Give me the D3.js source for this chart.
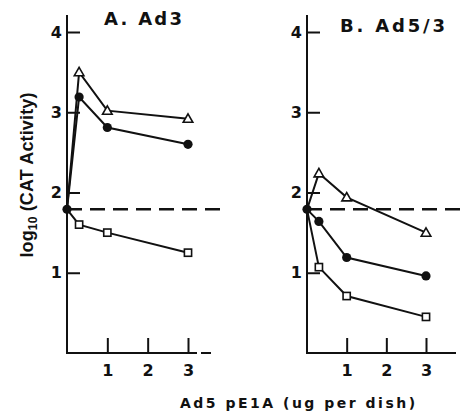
<!DOCTYPE html>
<html>
<head>
<meta charset="utf-8">
<script src="https://cdn.jsdelivr.net/npm/d3@7/dist/d3.min.js"></script>
<style>
  html, body { margin: 0; padding: 0; background: #fff; }
  svg { display: block; }
  text { font-family: "DejaVu Sans", "Liberation Sans", Arial, sans-serif; font-weight: bold; fill: #111; }
</style>
</head>
<body>
<svg id="chart" width="461" height="415"></svg>
<script>
// ---- data ----
const doses = [0, 0.3, 1, 3];
const xTicks = [1, 2, 3];
const yTicks = [1, 2, 3, 4];
const baseline = 1.79;
const panelTitles = ["A. Ad3", "B. Ad5/3"];
const ad3Triangle = [1.79, 3.50, 3.02, 2.92];
const ad3Circle   = [1.79, 3.19, 2.81, 2.60];
const ad3Square   = [1.79, 1.60, 1.50, 1.25];
const ad53Triangle = [1.79, 2.24, 1.94, 1.50];
const ad53Circle   = [1.79, 1.64, 1.19, 0.96];
const ad53Square   = [1.79, 1.07, 0.71, 0.45];
const yLabel = ["log", "10", " (CAT Activity)"];
const xLabel = "Ad5 pE1A (ug per dish)";

// ---- layout ----
const svg = d3.select("#chart");
const ink = "#111";
const y = d3.scaleLinear().domain([0, 4]).range([353, 32]);

const panels = [
  { title: panelTitles[0], tx: 104, ty: 25, tw: 78,
    x: d3.scaleLinear().domain([0, 3]).range([67, 188]),
    axisEnd: 197, axisDash: [201, 211], dashEnd: 228,
    series: [ad3Triangle, ad3Circle, ad3Square] },
  { title: panelTitles[1], tx: 340, ty: 32, tw: 105,
    x: d3.scaleLinear().domain([0, 3]).range([307, 426]),
    axisEnd: 456, axisDash: null, dashEnd: 461,
    series: [ad53Triangle, ad53Circle, ad53Square] }
];
const kinds = ["triangle", "circle", "square"];

function fit(sel, target) {
  const node = sel.node();
  const n = node.textContent.length;
  const w = node.getComputedTextLength();
  sel.attr("letter-spacing", ((target - w) / (n - 1)).toFixed(2));
}

panels.forEach(p => {
  const g = svg.append("g");
  const x0 = p.x(0);

  // baseline dashed line
  g.append("line")
    .attr("x1", x0).attr("x2", p.dashEnd)
    .attr("y1", y(baseline)).attr("y2", y(baseline))
    .attr("stroke", ink).attr("stroke-width", 2.5)
    .attr("stroke-dasharray", "15,8");

  // y axis
  const yAx = g.append("g").attr("transform", `translate(${x0},0)`)
    .call(d3.axisLeft(y).tickValues(yTicks).tickSizeInner(-13).tickSizeOuter(0).tickPadding(5).tickFormat(d3.format("d")));
  yAx.select(".domain").remove();
  yAx.selectAll(".tick line").attr("stroke", ink).attr("stroke-width", 2);
  yAx.selectAll(".tick text").style("font-size", "16px").attr("font-family", null).attr("fill", ink);
  g.append("line").attr("x1", x0).attr("x2", x0).attr("y1", 15).attr("y2", 354)
    .attr("stroke", ink).attr("stroke-width", 2);

  // x axis
  const xAx = g.append("g").attr("transform", `translate(0,${y(0)})`)
    .call(d3.axisBottom(p.x).tickValues(xTicks).tickSizeInner(-15).tickSizeOuter(0).tickPadding(12).tickFormat(d3.format("d")));
  xAx.select(".domain").remove();
  xAx.selectAll(".tick line").attr("stroke", ink).attr("stroke-width", 2);
  xAx.selectAll(".tick text").style("font-size", "16px").attr("font-family", null).attr("fill", ink);
  g.append("line").attr("x1", x0).attr("x2", p.axisEnd).attr("y1", y(0)).attr("y2", y(0))
    .attr("stroke", ink).attr("stroke-width", 2);
  if (p.axisDash) {
    g.append("line").attr("x1", p.axisDash[0]).attr("x2", p.axisDash[1]).attr("y1", y(0)).attr("y2", y(0))
      .attr("stroke", ink).attr("stroke-width", 2);
  }

  // title
  const t = g.append("text").attr("x", p.tx).attr("y", p.ty).style("font-size", "18px").text(p.title);
  fit(t, p.tw);

  // series
  const line = d3.line().x((d, i) => p.x(doses[i])).y(d => y(d));
  p.series.forEach((vals, si) => {
    g.append("path").attr("d", line(vals)).attr("fill", "none")
      .attr("stroke", ink).attr("stroke-width", 2);
  });
  p.series.forEach((vals, si) => {
    const kind = kinds[si];
    vals.forEach((v, i) => {
      const cx = p.x(doses[i]), cy = y(v);
      if (i === 0 && kind !== "circle") return;
      if (kind === "circle") {
        g.append("circle").attr("cx", cx).attr("cy", cy).attr("r", 4.6).attr("fill", ink);
      } else if (kind === "triangle") {
        const s = 4.8;
        g.append("path").attr("d", `M${cx},${cy - s} L${cx + s},${cy + s * 0.75} L${cx - s},${cy + s * 0.75} Z`)
          .attr("fill", "#fff").attr("stroke", ink).attr("stroke-width", 1.6);
      } else {
        const s = 3.6;
        g.append("rect").attr("x", cx - s).attr("y", cy - s).attr("width", 2 * s).attr("height", 2 * s)
          .attr("fill", "#fff").attr("stroke", ink).attr("stroke-width", 1.6);
      }
    });
  });
});

// y axis label
const yl = svg.append("text")
  .attr("transform", "translate(33,175) rotate(-90)")
  .attr("text-anchor", "middle")
  .style("font-family", "'Liberation Sans', Arial, sans-serif")
  .style("font-size", "18px");
yl.append("tspan").text(yLabel[0]);
yl.append("tspan").attr("dy", 4).style("font-size", "12px").text(yLabel[1]);
yl.append("tspan").attr("dy", -4).text(yLabel[2]);
fit(yl, 165);

// x axis label
const xl = svg.append("text").attr("x", 180).attr("y", 408).style("font-size", "14px").text(xLabel);
fit(xl, 235);
</script>
</body>
</html>
